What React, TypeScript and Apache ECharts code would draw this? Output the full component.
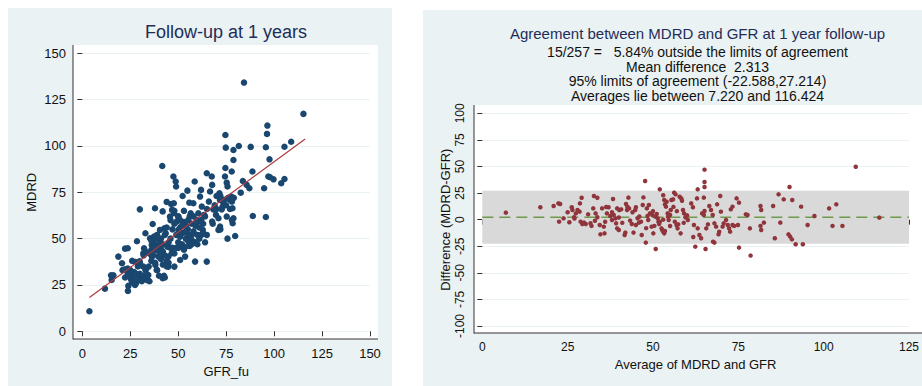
import React, { useEffect, useRef } from "react";
import * as echarts from "echarts";

// Left panel: GFR_fu (x) vs MDRD (y)
const followupPoints: [number, number][] = [
  [3.7, 10.8], [11.8, 23.0], [15.0, 30.2], [16.2, 30.2], [15.3, 27.7], [18.8, 40.3], [20.7, 36.7], [22.3, 44.6],
  [23.7, 44.8], [21.0, 33.0], [22.3, 33.5], [23.7, 33.8], [22.3, 29.0], [23.7, 31.0], [24.0, 24.5], [23.8, 21.8],
  [25.4, 28.0], [26.3, 30.2], [26.0, 26.3], [27.5, 25.0], [28.3, 27.3], [27.7, 37.4], [28.5, 48.6], [29.9, 37.8],
  [30.0, 29.5], [31.1, 28.6], [31.8, 42.1], [30.0, 65.8], [32.2, 44.8], [32.9, 52.9], [33.6, 27.7], [34.4, 30.4],
  [34.6, 34.9], [31.8, 34.9], [33.2, 30.9], [29.2, 28.6], [35.3, 50.2], [36.2, 46.6], [37.4, 51.1], [36.7, 57.9],
  [37.9, 66.4], [38.1, 43.9], [36.3, 40.3], [38.1, 35.8], [38.8, 33.1], [39.7, 40.3], [40.2, 48.4], [40.5, 54.7],
  [40.9, 44.8], [41.7, 89.2], [41.9, 64.7], [42.3, 41.2], [41.9, 28.6], [42.6, 29.9], [42.8, 55.6], [43.5, 52.9],
  [44.0, 69.8], [44.3, 45.7], [44.9, 40.3], [44.9, 34.9], [45.7, 61.9], [46.3, 68.7], [46.8, 65.5], [46.6, 42.1],
  [47.5, 83.5], [47.7, 69.1], [47.8, 63.7], [48.0, 34.9], [48.7, 80.8], [48.9, 78.1], [49.2, 59.2], [50.1, 54.7],
  [50.1, 61.9], [51.0, 38.5], [51.8, 45.7], [52.3, 73.0], [53.6, 40.3], [54.4, 52.9], [54.8, 75.9], [55.3, 60.1],
  [55.8, 69.4], [56.5, 63.7], [57.0, 49.3], [57.9, 69.1], [58.6, 80.8], [58.8, 37.6], [59.7, 60.1], [60.5, 63.7],
  [61.4, 72.7], [61.9, 76.3], [62.3, 67.3], [62.8, 54.7], [63.5, 62.8], [64.9, 52.0], [64.9, 85.3], [64.9, 37.6],
  [66.6, 75.4], [67.5, 83.5], [67.7, 79.0], [67.7, 59.2], [68.3, 65.8], [69.7, 62.8], [71.0, 54.7], [71.5, 74.5],
  [71.8, 70.9], [72.7, 65.8], [71.8, 56.5], [73.6, 69.1], [74.4, 83.5], [74.6, 105.9], [74.8, 99.1], [74.6, 88.1],
  [75.3, 80.2], [75.7, 78.1], [75.3, 61.9], [75.7, 50.0], [77.0, 70.9], [77.6, 72.7], [77.9, 86.2], [78.3, 66.4],
  [78.4, 58.3], [78.8, 92.4], [78.8, 97.8], [78.8, 61.0], [79.7, 51.4], [81.6, 100.0], [82.6, 74.8], [83.7, 81.1],
  [84.3, 134.2], [85.7, 79.0], [87.1, 77.2], [87.8, 99.5], [88.7, 86.2], [88.9, 62.2], [94.8, 77.2], [95.7, 99.3],
  [95.7, 61.7], [96.3, 106.5], [96.5, 111.0], [97.0, 83.5], [97.6, 92.8], [97.9, 83.1], [99.7, 82.0], [103.7, 79.9],
  [105.4, 82.2], [105.4, 99.6], [108.9, 102.3], [115.3, 117.3],
  [26, 29], [27, 32], [28, 26], [29, 35], [30, 31], [31, 27], [32, 29], [33, 33], [34, 28], [25, 33], [26, 38],
  [28, 31], [30, 37], [32, 41], [33, 43], [35, 27], [24, 30], [27, 27],
  [36, 44], [37, 48], [38, 50], [39, 46], [40, 43], [41, 39], [42, 36], [43, 41], [44, 38], [37, 41], [38, 37],
  [39, 33], [40, 30], [36, 38], [35, 42], [39, 52], [41, 50], [42, 47], [43, 52], [44, 56], [45, 48], [36, 49],
  [38, 45], [40, 47], [42, 43], [44, 35], [45, 37], [46, 45], [43, 29],
  [46, 50], [47, 55], [48, 58], [49, 52], [50, 48], [51, 56], [52, 53], [53, 59], [54, 50], [55, 55], [56, 52],
  [57, 58], [58, 54], [59, 48], [60, 52], [47, 45], [48, 42], [50, 45], [52, 47], [53, 44], [55, 46], [57, 47],
  [59, 57], [60, 59], [46, 60], [48, 65], [50, 62], [51, 60], [53, 65], [54, 57], [55, 49], [56, 62], [58, 62],
  [49, 45], [51, 51], [52, 57], [54, 54], [56, 46], [57, 52], [58, 48], [60, 47], [61, 50], [62, 52], [61, 56],
  [62, 60], [63, 58], [64, 62], [65, 66], [66, 70], [68, 58], [69, 68], [70, 66], [71, 61], [72, 73], [73, 67],
  [74, 71], [75, 68], [76, 72], [77, 66], [78, 70], [79, 72], [78, 60], [72, 55], [64, 48], [63, 53], [70, 73],
];

// Fitted line end points
const fitLine: [number, number][] = [[3.7, 18.2], [116.2, 103.8]];

// Right panel: average (x) vs difference (y)
const agreementPoints: [number, number][] = [
  [6.9, 6.6], [17.0, 11.6], [20.9, 12.8], [22.3, 15.3], [22.8, 14.7], [22.5, -1.9], [23.8, 1.2], [25.0, 6.9],
  [25.5, -2.5], [26.2, 11.6], [26.4, 9.1], [26.9, 2.2], [27.4, 5.9], [27.9, 9.1], [28.5, 7.5], [28.8, -1.9],
  [29.3, -4.1], [29.8, -2.8], [30.3, -4.1], [29.1, 20.6], [28.6, 15.3], [31.7, -3.4], [32.0, -5.9], [32.5, 10.6],
  [32.7, 22.3], [33.7, 20.6], [33.2, 5.9], [33.7, 2.2], [34.6, -13.8], [35.8, -12.9], [34.4, -5.0], [35.6, -6.6],
  [35.1, 10.6], [36.3, 11.9], [37.0, 11.6], [36.5, 5.9], [37.5, 3.4], [38.0, -0.3], [38.3, 19.4], [38.5, 4.4],
  [39.0, 1.2], [39.2, -3.5], [39.5, -8.2], [40.0, -9.7], [39.5, 10.6], [40.1, 9.1], [40.7, 9.7], [41.7, -14.4],
  [41.9, -12.2], [42.1, 14.7], [42.5, 12.2], [42.8, 20.7], [43.0, 10.6], [42.4, 9.1], [43.3, -0.9], [43.8, -4.1],
  [44.3, -12.2], [44.8, 9.1], [45.0, 11.6], [45.5, 1.2], [45.9, -2.8], [46.5, -1.9], [46.7, -14.4], [47.2, 20.9],
  [47.0, 13.8], [47.7, 36.3], [47.9, -21.6], [48.2, 10.6], [48.4, 3.4], [48.6, -0.3], [48.8, 13.8], [49.1, 5.9],
  [49.6, -6.6], [49.8, 4.4], [50.1, -12.9], [50.4, -5.9], [50.8, -27.6], [50.7, 2.8], [51.1, 5.3], [51.4, 1.2],
  [51.6, -1.9], [51.8, -4.1], [52.0, 28.5], [52.5, -8.2], [52.7, -9.7], [53.0, -11.3], [53.3, -12.9], [53.5, -10.7],
  [53.0, 22.9], [53.3, 18.5], [53.5, 14.4], [53.8, 12.2], [54.0, 16.9], [54.3, 5.9], [54.4, 2.8], [54.6, -0.3],
  [55.0, 4.4], [55.2, 9.1], [55.4, 18.5], [55.9, 19.1], [56.2, 25.4], [56.6, 23.8], [56.4, -1.9], [56.9, -5.0],
  [57.2, -8.2], [57.4, -4.4], [57.8, 21.6], [58.3, 20.0], [58.5, 17.8], [58.1, -12.9], [58.8, 9.1], [59.1, 5.9],
  [59.5, 2.2], [60.2, -0.3], [61.2, 15.3], [61.7, 11.6], [61.8, -16.3], [62.4, -25.4], [62.9, 20.0], [63.1, 28.5],
  [63.1, -8.2], [63.6, -14.4], [64.1, -17.5], [64.4, 5.9], [64.9, 4.4], [65.1, 8.1], [65.1, 30.7], [65.1, 35.4],
  [65.1, 47.0], [65.4, -27.6], [64.9, 20.7], [65.6, -8.2], [66.1, -4.4], [66.5, 12.8], [67.0, 9.1], [67.5, 4.4],
  [68.0, -3.5], [68.5, -6.6], [67.6, -20.7], [68.0, -21.6], [68.8, 14.4], [69.2, -13.8], [69.7, 22.3], [69.4, -11.3],
  [70.4, -6.6], [70.7, -3.5], [69.9, 7.5], [71.4, -0.3], [71.9, -5.0], [72.3, -8.2], [72.6, -11.3], [72.8, 9.7],
  [73.3, 12.2], [73.3, -5.0], [73.8, -5.9], [74.5, 20.0], [75.2, 16.0], [74.9, -5.0], [75.2, -26.3], [77.2, 5.0],
  [77.7, 4.4], [78.4, -8.2], [78.6, -33.8], [81.5, 12.8], [81.7, 9.1], [81.5, -5.9], [81.7, -9.7], [82.5, -2.8],
  [85.2, 12.8], [85.7, -17.5], [86.8, 23.8], [87.3, -2.8], [88.3, 19.1], [90.0, 30.7], [89.7, -13.8], [90.2, -16.0],
  [90.7, -18.5], [90.8, 18.5], [91.8, -23.2], [93.9, -23.2], [93.4, 12.2], [95.3, -5.0], [97.3, 3.4], [101.6, 10.6],
  [102.6, -5.9], [103.7, 14.4], [105.5, -5.9], [109.4, 49.8], [116.3, 1.9],
  [40, 2], [41, -3], [44, 7], [46, 3], [52, -2], [55, -6], [57, 8], [59, -3], [60, 4], [62, -5], [45, -5],
  [50, 8], [53, 0], [48, -8], [56, 12], [38, 7], [36, -2], [33, -1], [31, 5], [27, 1],
];

const meanDifference = 2.313;
const lowerLimit = -22.588;
const upperLimit = 27.214;
const bandRange: [number, number] = [0, 125];

const leftTicks = [0, 25, 50, 75, 100, 125, 150];
const rightXTicks = [0, 25, 50, 75, 100, 125];
const rightYTicks = [-100, -75, -50, -25, 0, 25, 50, 75, 100];

const leftTitle = "Follow-up at 1 years";
const rightTitle = "Agreement between MDRD and GFR at 1 year follow-up";
const rightSubtitles = [
  "15/257 =   5.84% outside the limits of agreement",
  "Mean difference  2.313",
  "95% limits of agreement (-22.588,27.214)",
  "Averages lie between 7.220 and 116.424",
];

const FONT = "Liberation Sans, Arial, Helvetica, sans-serif";
const BG = "#eaf2f3";
const GRIDLINE = "#eaf2f3";
const NAVY = "#1a476f";
const MAROON = "#90353b";
const TITLE_COLOR = "#1e2d5a";

function axisCommon(fontSize: number) {
  return {
    axisLine: { show: false },
    axisTick: { show: true, length: 5, lineStyle: { color: "#333", width: 1 } },
    axisLabel: { color: "#111", fontSize, fontFamily: FONT },
    nameTextStyle: { color: "#111", fontSize: 13, fontFamily: FONT },
  };
}

export default function App() {
  const ref = useRef<HTMLDivElement>(null);

  useEffect(() => {
    if (!ref.current) return;
    const chart = echarts.init(ref.current, undefined, { renderer: "svg" });

    const lc = axisCommon(13);
    const rc = axisCommon(12);

    const graphic: any[] = [
      { type: "rect", z: -5, shape: { x: 8, y: 8, width: 384, height: 378 }, style: { fill: BG } },
      { type: "rect", z: -5, shape: { x: 423, y: 10, width: 499, height: 376 }, style: { fill: BG } },
      { type: "rect", z: -4, shape: { x: 73, y: 45, width: 305, height: 294 }, style: { fill: "#ffffff" } },
      { type: "rect", z: -4, shape: { x: 474, y: 105, width: 448, height: 228 }, style: { fill: "#ffffff" } },
      { type: "line", z: 5, shape: { x1: 73, y1: 45, x2: 73, y2: 339.5 }, style: { stroke: "#333", lineWidth: 1 } },
      { type: "line", z: 5, shape: { x1: 73, y1: 339, x2: 378, y2: 339 }, style: { stroke: "#333", lineWidth: 1 } },
      { type: "line", z: 5, shape: { x1: 474, y1: 105, x2: 474, y2: 333.5 }, style: { stroke: "#333", lineWidth: 1 } },
      { type: "line", z: 5, shape: { x1: 474, y1: 333, x2: 922, y2: 333 }, style: { stroke: "#333", lineWidth: 1 } },
      {
        type: "text", z: 10, x: 226, y: 32,
        style: { text: leftTitle, fill: TITLE_COLOR, fontSize: 18, fontFamily: FONT, textAlign: "center", textVerticalAlign: "middle" },
      },
      {
        type: "text", z: 10, x: 697.5, y: 33,
        style: { text: rightTitle, fill: TITLE_COLOR, fontSize: 15, fontFamily: FONT, textAlign: "center", textVerticalAlign: "middle" },
      },
      ...rightSubtitles.map((t, i) => ({
        type: "text", z: 10, x: 697.5, y: 52 + i * 14.5,
        style: { text: t, fill: "#111", fontSize: 14, fontFamily: FONT, textAlign: "center", textVerticalAlign: "middle", whiteSpace: "pre" },
      })),
    ];

    chart.setOption({
      animation: false,
      backgroundColor: "#ffffff",
      graphic,
      grid: [
        { left: 82.3, top: 53.3, width: 287.7, height: 278, containLabel: false },
        { left: 482.3, top: 113.3, width: 431, height: 212.7, containLabel: false },
      ],
      xAxis: [
        {
          gridIndex: 0, type: "value", min: leftTicks[0], max: leftTicks[leftTicks.length - 1], interval: 25,
          offset: 7.7, name: "GFR_fu", nameLocation: "middle", nameGap: 22,
          splitLine: { show: false },
          ...lc,
          axisLabel: { ...lc.axisLabel, margin: 8 },
        },
        {
          gridIndex: 1, type: "value", min: rightXTicks[0], max: rightXTicks[rightXTicks.length - 1], interval: 25,
          offset: 6.7, name: "Average of MDRD and GFR", nameLocation: "middle", nameGap: 22,
          splitLine: { show: false },
          ...rc,
          axisLabel: { ...rc.axisLabel, margin: 8, showMaxLabel: true },
        },
      ],
      yAxis: [
        {
          gridIndex: 0, type: "value", min: leftTicks[0], max: leftTicks[leftTicks.length - 1], interval: 25,
          offset: 9.3, name: "MDRD", nameLocation: "middle", nameGap: 35, nameRotate: 90,
          splitLine: { show: true, lineStyle: { color: GRIDLINE, width: 1.2 } },
          ...lc,
          axisLabel: { ...lc.axisLabel, margin: 7 },
        },
        {
          gridIndex: 1, type: "value", min: rightYTicks[0], max: rightYTicks[rightYTicks.length - 1], interval: 25,
          offset: 8.3, name: "Difference (MDRD-GFR)", nameLocation: "middle", nameGap: 22, nameRotate: 90,
          splitLine: { show: true, lineStyle: { color: GRIDLINE, width: 1.2 } },
          ...rc,
          axisLabel: { ...rc.axisLabel, margin: 8, rotate: 90 },
        },
      ],
      series: [
        {
          type: "scatter", xAxisIndex: 0, yAxisIndex: 0, z: 3,
          data: followupPoints, symbolSize: 6.5,
          itemStyle: { color: NAVY, opacity: 1 },
        },
        {
          type: "line", xAxisIndex: 0, yAxisIndex: 0, z: 4,
          data: fitLine, symbol: "none",
          lineStyle: { color: "#b03a3e", width: 1.2 },
        },
        {
          type: "line", xAxisIndex: 1, yAxisIndex: 1, z: 2,
          data: [[bandRange[0], meanDifference], [bandRange[1], meanDifference]],
          symbol: "none",
          lineStyle: { color: "#6f9a4c", width: 1.5, type: [11, 6] },
          markArea: {
            silent: true,
            itemStyle: { color: "#d9d9d9" },
            data: [[{ coord: [bandRange[0], upperLimit] }, { coord: [bandRange[1], lowerLimit] }]],
          },
        },
        {
          type: "scatter", xAxisIndex: 1, yAxisIndex: 1, z: 3,
          data: agreementPoints, symbolSize: 4.5,
          itemStyle: { color: MAROON, opacity: 1 },
        },
      ],
    });

    return () => chart.dispose();
  }, []);

  return (
    <div
      ref={ref}
      style={{ position: "absolute", left: 0, top: 0, width: 922, height: 386 }}
    />
  );
}
